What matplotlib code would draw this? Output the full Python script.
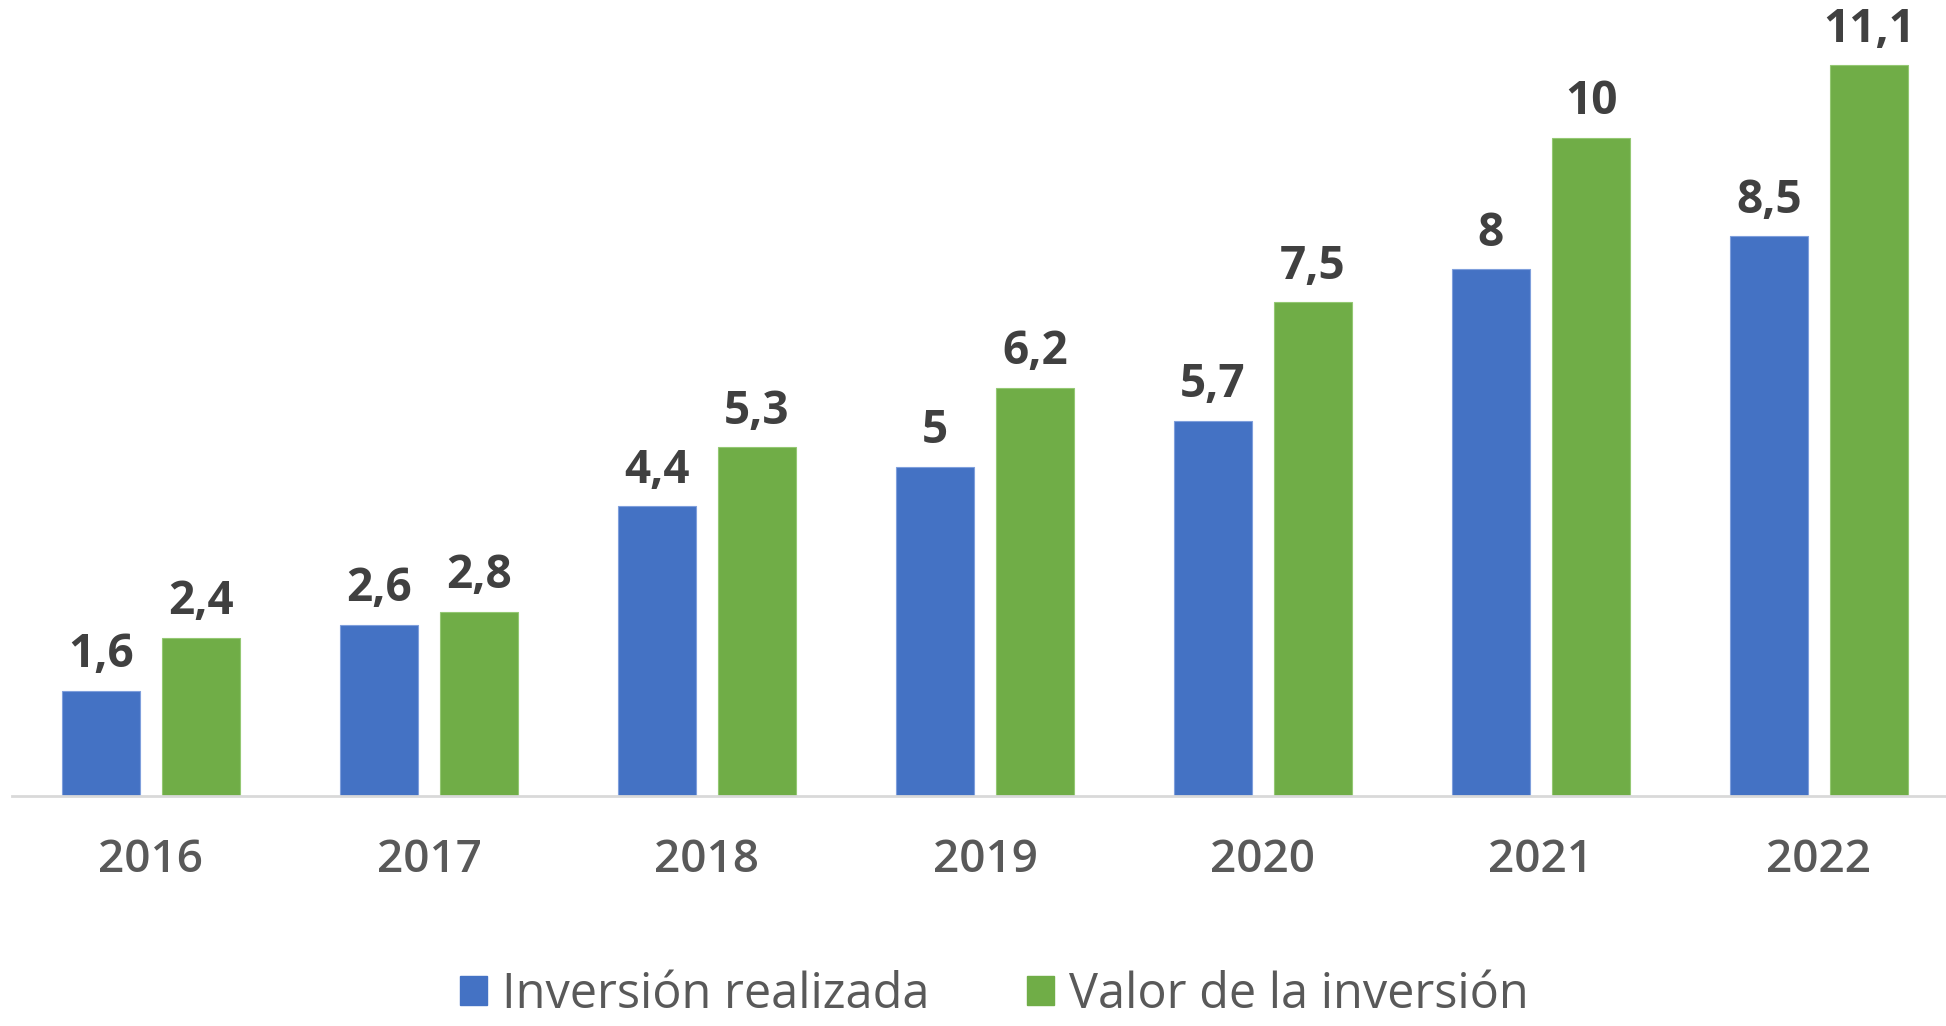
import numpy as np
import matplotlib.pyplot as plt
from matplotlib.patches import Patch

# Data
years = ['2016', '2017', '2018', '2019', '2020', '2021', '2022']
inversion_realizada = [1.6, 2.6, 4.4, 5.0, 5.7, 8.0, 8.5]
valor_inversion = [2.4, 2.8, 5.3, 6.2, 7.5, 10.0, 11.1]
series_names = ['Inversión realizada', 'Valor de la inversión']

blue = '#4472C4'
green = '#70AD47'

plt.rcParams['font.family'] = ['Open Sans', 'DejaVu Sans']

fig = plt.figure(figsize=(19.46, 10.26), dpi=100)
ax = fig.add_axes([12 / 1946, 230 / 1026, 1.0, 790 / 1026])

x = np.arange(len(years))
w = 0.28
off = 0.18
b1 = ax.bar(x - off, inversion_realizada, w, color=blue, edgecolor='#7f9fdc', linewidth=0.8)
b2 = ax.bar(x + off, valor_inversion, w, color=green, edgecolor='#94c873', linewidth=0.8)


def fmt(v):
    s = ('%.1f' % v).rstrip('0').rstrip('.')
    return s.replace('.', ',')


for bars, vals in [(b1, inversion_realizada), (b2, valor_inversion)]:
    for rect, v in zip(bars, vals):
        ax.annotate(fmt(v), (rect.get_x() + rect.get_width() / 2, v),
                    xytext=(0, 9), textcoords='offset points',
                    ha='center', va='bottom', fontsize=33, fontweight='bold',
                    color='#404040', clip_on=False)

ax.set_xlim(-0.5, 6.5)
ax.set_ylim(0, 12)
ax.set_xticks(x)
ax.set_xticklabels(years, fontsize=33, fontweight='semibold', color='#595959')
ax.tick_params(axis='x', length=0, pad=30)
ax.set_yticks([])
for side in ['top', 'right', 'left']:
    ax.spines[side].set_visible(False)
ax.spines['bottom'].set_color('#D9D9D9')
ax.spines['bottom'].set_linewidth(2)

handles = [Patch(color=blue), Patch(color=green)]
fig.legend(handles, series_names, loc='center', bbox_to_anchor=(0.511, 0.03),
           ncol=2, frameon=False, fontsize=35, labelcolor='#595959',
           handlelength=0.55, handleheight=0.55, handletextpad=0.32, columnspacing=2.0)

fig.savefig('out.png', dpi=100)
